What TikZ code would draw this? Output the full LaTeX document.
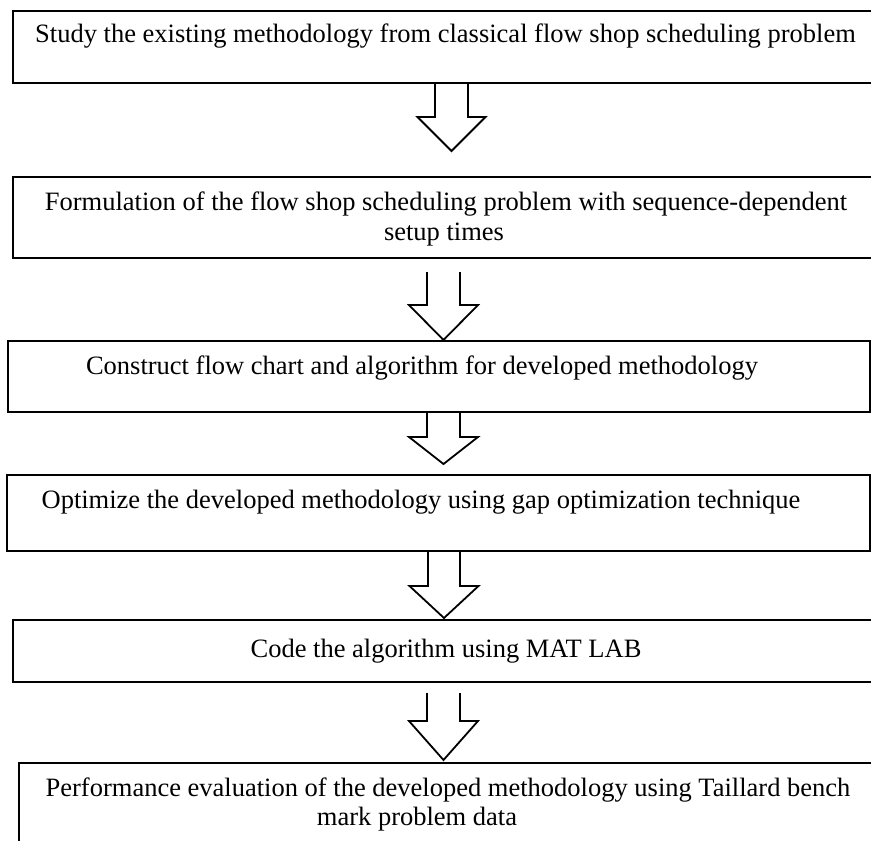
\documentclass[tikz,border=0pt]{standalone}
\usepackage{fontspec}
\setmainfont{Liberation Serif}
\newcommand\FlowArrow[6]{% center x, top y, head y, tip y, shaft half width, head half width
  \draw[blockarr] ({#1-#5},#2) -- ({#1-#5},#3) -- ({#1-#6},#3) -- (#1,#4) -- ({#1+#6},#3) -- ({#1+#5},#3) -- ({#1+#5},#2);
}
\begin{document}
\begin{tikzpicture}[x=1pt,y=-1pt,
  boxstyle/.style={draw=black, line width=2pt, rectangle, inner sep=0pt, anchor=north west},
  lbl/.style={anchor=base, inner sep=0pt, font=\fontsize{26.5}{30}\selectfont},
  blockarr/.style={draw=black, line width=1.8pt, fill=white, line join=miter}]
\useasboundingbox (0,0) rectangle (871,841);
\clip (0,0) rectangle (871,841);
% block arrows
\FlowArrow{451.5}{82}{117}{151}{16.5}{34}
\FlowArrow{443.5}{272}{305}{340}{16.5}{34.5}
\FlowArrow{443.5}{411}{437}{464}{16.5}{34.5}
\FlowArrow{444}{550}{586}{618}{16}{34.5}
\FlowArrow{443.5}{693}{721}{760}{16.5}{34.5}
% boxes
\node[boxstyle, minimum width=870pt, minimum height=72pt] (b1) at (12,10) {};
\node[boxstyle, minimum width=870pt, minimum height=81pt] (b2) at (12,176) {};
\node[boxstyle, minimum width=862pt, minimum height=71pt] (b3) at (7,340) {};
\node[boxstyle, minimum width=863pt, minimum height=76pt] (b4) at (6,474) {};
\node[boxstyle, minimum width=870pt, minimum height=62pt] (b5) at (12,619) {};
\node[boxstyle, minimum width=870pt, minimum height=140pt] (b6) at (18,762) {};
% texts
\node[lbl] (t1) at (445.5,42) {Study the existing methodology from classical flow shop scheduling problem};
\node[lbl] (t2a) at (446,210) {Formulation of the flow shop scheduling problem with sequence-dependent};
\node[lbl] (t2b) at (444,240) {setup times};
\node[lbl] (t3) at (422,374) {Construct flow chart and algorithm for developed methodology};
\node[lbl] (t4) at (421,508) {Optimize the developed methodology using gap optimization technique};
\node[lbl] (t5) at (446,657) {Code the algorithm using MAT LAB};
\node[lbl] (t6a) at (448,796) {Performance evaluation of the developed methodology using Taillard bench};
\node[lbl] (t6b) at (417,825) {mark problem data};
\end{tikzpicture}
\end{document}
